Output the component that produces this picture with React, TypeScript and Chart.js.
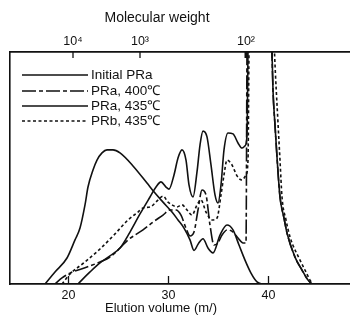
import React, { useEffect, useRef } from 'react';
import { Chart, registerables } from 'chart.js';

Chart.register(...registerables);

// ---- Data (elution volume in ml, relative detector response 0-100) ----
const X_MIN = 14.15;
const X_MAX = 48.15;

const bottomTicks = [20, 30, 40];
const bottomLabels = ['20', '30', '40'];
const topTickPositions = [20.45, 27.15, 37.75, 40.35];
const topTickLabels = ['10\u2074', '10\u00b3', '10\u00b2', ''];
const topTitle = 'Molecular weight';
const bottomTitle = 'Elution volume (m/)';

const initialX = [17.65, 18.65, 19.85, 20.65, 21.15, 21.65, 21.95, 22.45, 22.85, 23.35, 23.85, 24.45, 25.15, 26.45, 27.85, 28.65, 29.45, 30.35, 30.95, 31.55, 32.15, 32.55, 33.0, 33.45, 33.95, 34.45, 35.15, 35.85, 36.45, 37.05, 37.65, 38.25, 38.85, 39.35];
const initialY = [0, 5.2, 11.2, 19.0, 24.1, 34.1, 41.8, 49.1, 53.4, 56.5, 57.8, 57.8, 56.5, 50.9, 43.5, 39.2, 35.3, 31.0, 27.6, 24.1, 19.0, 14.5, 17.5, 19.5, 15.5, 13.4, 21.1, 25.4, 23.3, 16.8, 10.3, 4.7, 0.9, 0];

const pra400X = [18.65, 19.35, 20.15, 21.85, 23.15, 24.15, 25.15, 25.95, 26.65, 27.45, 28.45, 29.45, 30.15, 30.75, 31.25, 31.75, 32.15, 32.55, 32.95, 33.35, 33.75, 34.15, 34.55, 34.95, 35.35, 35.85, 36.45, 36.95, 37.45, 37.75, 37.85, 38.0, 40.2, 40.35, 40.45, 40.65, 40.85, 41.15, 41.55, 41.85, 42.65, 43.35, 43.95, 44.35];
const pra400Y = [0, 2.6, 4.7, 7.3, 9.5, 11.6, 15.5, 19.0, 21.1, 23.3, 26.7, 29.7, 31.9, 31.9, 29.7, 24.1, 20.7, 22.4, 31.9, 40.5, 38.4, 25.4, 16.8, 17.7, 21.1, 23.3, 22.4, 19.8, 17.7, 17.7, 100, 140, 140, 100, 83.6, 68.5, 54.7, 37.5, 28.4, 22.0, 11.6, 6.0, 1.7, 0];

const pra435X = [20.95, 22.15, 23.15, 24.15, 25.15, 26.15, 27.15, 28.15, 28.75, 29.25, 29.75, 30.05, 30.55, 30.95, 31.35, 31.75, 32.05, 32.45, 32.85, 33.15, 33.45, 33.85, 34.25, 34.65, 34.95, 35.25, 35.55, 35.95, 36.45, 36.95, 37.35, 37.65, 37.85, 37.95, 38.1, 40.2, 40.35, 40.45, 40.65, 40.85, 41.15, 41.55, 41.85, 42.65, 43.35, 43.95, 44.35];
const pra435Y = [0, 5.2, 9.1, 12.1, 15.5, 22.4, 30.2, 37.5, 41.8, 44.0, 41.8, 40.9, 47.0, 54.3, 57.8, 53.4, 42.7, 37.5, 48.3, 59.9, 65.9, 63.4, 51.3, 38.4, 34.9, 42.7, 57.8, 65.1, 64.7, 60.8, 58.6, 59.5, 64.2, 100, 140, 140, 100, 83.6, 68.5, 54.7, 37.5, 28.4, 22.0, 11.6, 6.0, 1.7, 0];

const prb435X = [19.35, 20.15, 21.65, 23.15, 24.65, 25.95, 26.95, 27.45, 28.15, 28.95, 29.45, 29.95, 30.35, 30.85, 31.35, 31.85, 32.35, 32.85, 33.25, 33.75, 34.35, 34.85, 35.25, 35.55, 35.85, 36.35, 36.85, 37.35, 37.75, 37.95, 38.05, 38.2, 40.3, 40.6, 40.95, 41.15, 41.35, 41.75, 42.15, 43.15, 43.65, 44.15, 44.45];
const prb435Y = [0, 4.3, 9.5, 15.1, 21.6, 27.6, 31.0, 32.8, 33.2, 36.2, 37.9, 35.3, 34.1, 33.2, 34.1, 31.9, 29.7, 34.1, 36.2, 31.0, 27.6, 28.4, 38.4, 47.0, 53.4, 51.3, 46.6, 44.8, 47.0, 53.4, 100, 140, 140, 100, 69.4, 53.4, 37.5, 27.6, 20.3, 10.3, 6.0, 1.7, 0];

const seriesNames = ['Initial PRa', 'PRa, 400\u2103', 'PRa, 435\u2103', 'PRb, 435\u2103'];
const seriesDashes: number[][] = [[], [14, 3, 4, 3], [], [3, 2.5]];

const FONT = "'Liberation Sans', Arial, sans-serif";
const INK = '#111';

const toPts = (xs: number[], ys: number[]) => xs.map((x, i) => ({ x, y: ys[i] }));

const inwardTicks = {
  id: 'inwardTicks',
  afterDraw(chart: any) {
    const { ctx, chartArea, scales } = chart;
    ctx.save();
    ctx.strokeStyle = INK;
    ctx.setLineDash([]);
    ctx.lineWidth = 1.3;
    bottomTicks.forEach((v) => {
      const px = scales.x.getPixelForValue(v);
      ctx.beginPath();
      ctx.moveTo(px, chartArea.bottom);
      ctx.lineTo(px, chartArea.bottom - 8);
      ctx.stroke();
    });
    topTickPositions.forEach((v, i) => {
      const px = scales.x2.getPixelForValue(v);
      ctx.lineWidth = i === 2 ? 3 : 1.3;
      ctx.beginPath();
      ctx.moveTo(px, chartArea.top);
      ctx.lineTo(px, chartArea.top + 6);
      ctx.stroke();
    });
    // axis titles (placed off-centre as in the original figure)
    ctx.fillStyle = INK;
    ctx.textAlign = 'center';
    ctx.textBaseline = 'middle';
    ctx.font = `14px ${FONT}`;
    ctx.fillText(topTitle, 157, 18);
    ctx.font = `13px ${FONT}`;
    ctx.fillText(bottomTitle, 161, 308);
    ctx.restore();
  },
};

const legendPlugin = {
  id: 'insideLegend',
  afterDraw(chart: any) {
    const { ctx } = chart;
    ctx.save();
    ctx.font = `13.5px ${FONT}`;
    ctx.fillStyle = INK;
    ctx.textBaseline = 'middle';
    ctx.strokeStyle = INK;
    ctx.lineWidth = 1.5;
    const rows = [75, 91, 106, 121];
    seriesNames.forEach((name, i) => {
      const y = rows[i];
      ctx.setLineDash(seriesDashes[i]);
      ctx.beginPath();
      ctx.moveTo(22, y);
      ctx.lineTo(88, y);
      ctx.stroke();
      ctx.setLineDash([]);
      ctx.fillText(name, 91, y + 0.5);
    });
    ctx.restore();
  },
};

export default function App() {
  const ref = useRef<HTMLCanvasElement | null>(null);

  useEffect(() => {
    if (!ref.current) return;
    const mk = (i: number, xs: number[], ys: number[]) => ({
      label: seriesNames[i],
      data: toPts(xs, ys),
      borderColor: INK,
      borderWidth: 1.6,
      borderDash: seriesDashes[i],
      pointRadius: 0,
      fill: false,
      cubicInterpolationMode: 'monotone' as const,
      xAxisID: 'x',
      yAxisID: 'y',
    });
    const chart = new Chart(ref.current, {
      type: 'line',
      data: {
        datasets: [
          mk(0, initialX, initialY),
          mk(1, pra400X, pra400Y),
          mk(2, pra435X, pra435Y),
          mk(3, prb435X, prb435Y),
        ],
      },
      options: {
        animation: false,
        responsive: false,
        layout: { padding: 0 },
        plugins: { legend: { display: false }, tooltip: { enabled: false } },
        scales: {
          x: {
            type: 'linear',
            position: 'bottom',
            min: X_MIN,
            max: X_MAX,
            grid: { display: false, drawTicks: false },
            border: { display: true, color: INK, width: 1.8 },
            ticks: {
              color: INK,
              font: { family: FONT, size: 12.5 },
              padding: 4,
              maxRotation: 0,
              autoSkip: false,
              callback: (v: any) => {
                const i = bottomTicks.indexOf(Number(v));
                return i >= 0 ? bottomLabels[i] : '';
              },
            },
            afterBuildTicks: (s: any) => {
              s.ticks = bottomTicks.map((v) => ({ value: v }));
            },
            afterFit: (s: any) => {
              s.height = 39;
            },
          },
          x2: {
            type: 'linear',
            position: 'top',
            min: X_MIN,
            max: X_MAX,
            grid: { display: false, drawTicks: false },
            border: { display: true, color: INK, width: 1.8 },
            ticks: {
              color: INK,
              font: { family: FONT, size: 12.5 },
              padding: 3,
              maxRotation: 0,
              autoSkip: false,
              callback: (v: any) => {
                const i = topTickPositions.indexOf(Number(v));
                return i >= 0 ? topTickLabels[i] : '';
              },
            },
            afterBuildTicks: (s: any) => {
              s.ticks = topTickPositions.map((v) => ({ value: v }));
            },
            afterFit: (s: any) => {
              s.height = 52;
            },
          },
          y: {
            type: 'linear',
            position: 'left',
            min: 0,
            max: 100,
            grid: { display: false, drawTicks: false },
            border: { display: true, color: INK, width: 1.6 },
            ticks: { display: false },
            afterFit: (s: any) => {
              s.width = 10;
            },
          },
        },
      },
      plugins: [inwardTicks, legendPlugin],
    });
    return () => chart.destroy();
  }, []);

  return (
    <div style={{ position: 'absolute', left: 0, top: 0, width: 350, height: 323, background: '#fff' }}>
      <canvas ref={ref} width={350} height={323} style={{ display: 'block' }} />
    </div>
  );
}
